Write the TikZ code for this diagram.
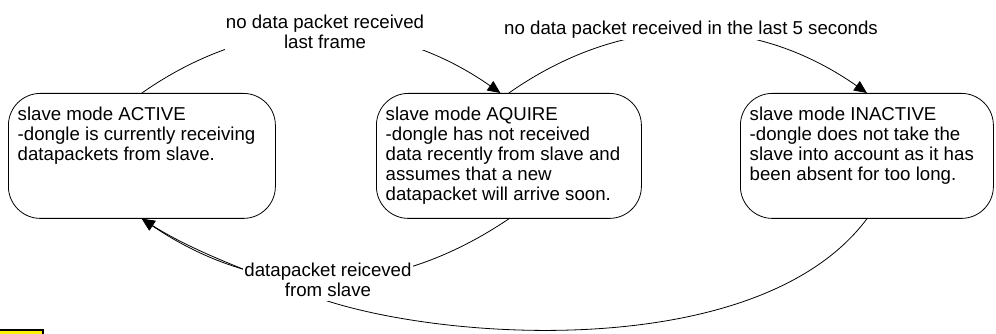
\documentclass[tikz,border=0pt]{standalone}
\usepackage{fontspec}
\setmainfont{Liberation Sans}
\usetikzlibrary{arrows.meta,calc,backgrounds}
\begin{document}
\begin{tikzpicture}[x=0.75pt,y=-0.75pt,
  state/.style={draw, line width=0.6pt, rounded corners=24pt, anchor=north west,
    inner xsep=7pt, inner ysep=0pt, font=\fontsize{14}{15}\selectfont},
  lbl/.style={fill=white, inner sep=0.75pt, align=center, font=\fontsize{14}{15}\selectfont},
  edge/.style={line width=0.6pt},
  arr/.style={edge, -{Triangle[length=9.5pt,width=8.5pt]}}]
\path[use as bounding box] (0,0) rectangle (996,334);

\node[state] (b1) at (8,93) {\parbox[t][93.75pt][t]{186.25pt}{\raggedright\rule{0pt}{20pt}slave mode ACTIVE\\-dongle is currently receiving\\datapackets from slave.}};
\node[state] (b2) at (376,93) {\parbox[t][93.75pt][t]{184.75pt}{\raggedright\rule{0pt}{20pt}slave mode AQUIRE\\-dongle has not received\\data recently from slave and\\assumes that a new\\datapacket will arrive soon.}};
\node[state] (b3) at (740,93) {\parbox[t][93.75pt][t]{175.75pt}{\raggedright\rule{0pt}{20pt}slave mode INACTIVE\\-dongle does not take the\\slave into account as it has\\been absent for too long.}};

\node[lbl, anchor=north] (l1) at (325,14) {no data packet received\\last frame};
\node[lbl, anchor=base] (l2) at (691,34.7) {no data packet received in the last 5 seconds};
\node[lbl, anchor=north, inner xsep=1pt, inner ysep=3pt] (l3) at (328,259) {datapacket reiceved\\from slave};

\begin{scope}[on background layer]
\fill[white] (0,0) rectangle (996,334);
\draw[arr] (b1.north) .. controls ($(b1.north)+(114.7,-80.3)$) and ($(b2.north)+(-123.2,-80.3)$) .. ($(b2.north)+(-8.5,0)$);
\draw[arr] (b2.north) .. controls ($(b2.north)+(115,-80.5)$) and ($(b3.north)+(-115,-80.5)$) .. (b3.north);
\draw[arr] (b2.south) .. controls ($(b2.south)+(-120.5,81.3)$) and ($(b1.south)+(120.5,81.3)$) .. (b1.south);
\draw[arr] (b3.south) .. controls ($(b3.south)+(-106,142)$) and ($(l3.south)+(122,41)$) .. ($(l3.south)+(-6,-2)$)
  .. controls ($(l3.south)+(-66,-25)$) and ($(b1.south)+(55,35)$) .. (b1.south);
\end{scope}

\draw[line width=1.5pt, fill=yellow] (-5,330) rectangle (43,345);
\end{tikzpicture}
\end{document}
